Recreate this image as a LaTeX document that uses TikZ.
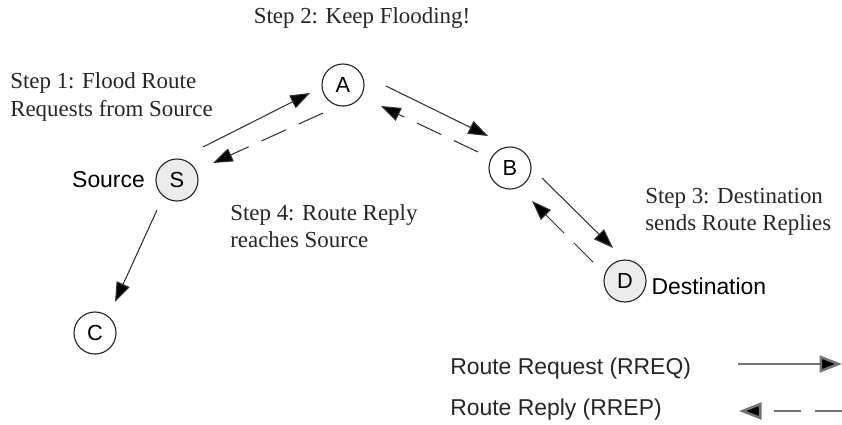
\documentclass[tikz,border=0pt]{standalone}
\usepackage{fontspec}
\setmainfont{Liberation Serif}
\setsansfont{Liberation Sans}
\usepackage{tikz}
\usetikzlibrary{arrows.meta, positioning, calc}
\definecolor{nodegray}{RGB}{236,236,236}
\definecolor{linegray}{RGB}{50,50,50}

\begin{document}
\begin{tikzpicture}[
    x=0.025cm, y=-0.025cm,
    every node/.style={font=\sffamily\fontsize{16.3}{19}\selectfont},
    station/.style={circle, draw=black!85, line width=0.8pt, fill=#1, minimum size=1.05cm, inner sep=0pt, font=\sffamily\fontsize{15.5}{18}\selectfont},
    station/.default=white,
    note/.style={align=left, anchor=west, inner sep=0pt, font=\fontsize{16.3}{19.5}\selectfont, text=black!85},
    req/.style={draw=linegray, line width=0.75pt, -{Triangle[length=14pt, width=10pt, fill=black]}},
    rep/.style={req, dash pattern=on 19pt off 10pt},
    keyreq/.style={draw=black!55, line width=1.8pt, -{Triangle[length=16pt, width=12pt, fill=black]}},
    keyrep/.style={keyreq, dash pattern=on 19pt off 10.5pt}
]
\useasboundingbox (0,0) rectangle (842,424);

% stations
\node[station] (A) at (343,85) {A};
\node[station=nodegray] (S) at (177,180) {S};
\node[station] (B) at (510,168) {B};
\node[station=nodegray] (D) at (625,281) {D};
\node[station] (C) at (95,333) {C};

\node[left=4pt of S] (srclabel) {Source};
\node[right=0pt of D, yshift=-4pt] (dstlabel) {Destination};

% steps
\node[note, anchor=center] (step2) at (362,18) {Step 2: Keep Flooding!};
\node[note] (step1) at (10,97) {Step 1: Flood Route\\Requests from Source};
\node[note] (step4) at (230,226) {Step 4: Route Reply\\reaches Source};
\node[note] (step3) at (645,212) {Step 3: Destination\\sends Route Replies};

% requests
\draw[req] ($(S.center)+(26,-33)$) -- ($(A.center)+(-33,8)$);
\draw[req] ($(A.center)+(43,1)$) -- ($(B.center)+(-22,-32)$);
\draw[req] ($(B.center)+(32,10)$) -- ($(D.center)+(-12,-33)$);
\draw[req] ($(S.center)+(-20,30)$) -- ($(C.center)+(20,-31)$);

% replies
\draw[rep] ($(A.center)+(-20,28)$) -- ($(S.center)+(36,-17)$);
\draw[rep] ($(B.center)+(-32,-16)$) -- ($(A.center)+(38,21)$);
\draw[rep] ($(D.center)+(-32,-19)$) -- ($(B.center)+(22,33)$);

% legend
\node[anchor=west, inner sep=0pt, text=black!85] (reqlabel) at (450,369) {Route Request (RREQ)};
\node[anchor=west, inner sep=0pt, text=black!85] (replabel) at (450,410) {Route Reply (RREP)};
\coordinate (reqfrom) at (738,364);
\coordinate (reqto) at (842,364);
\coordinate (repfrom) at (842,411);
\coordinate (repto) at (739,411);
\draw[keyreq] (reqfrom) -- (reqto);
\draw[keyrep] (repfrom) -- (repto);

\end{tikzpicture}
\end{document}
